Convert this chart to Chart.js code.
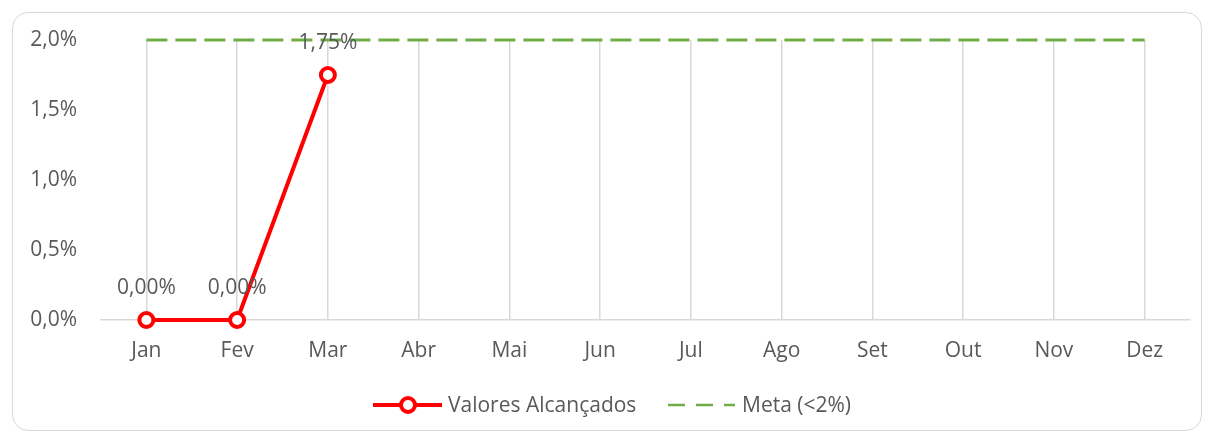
<!DOCTYPE html>
<html>
<head>
<meta charset="utf-8">
<script src="https://cdn.jsdelivr.net/npm/chart.js@4/dist/chart.umd.min.js"></script>
<style>
  html, body { margin: 0; padding: 0; background: #fff; }
  #wrap { position: relative; width: 1205px; height: 432px; overflow: hidden; }
  #frame {
    position: absolute; left: 12px; top: 12px; width: 1190px; height: 419px;
    box-sizing: border-box; border: 1.5px solid #d9d9d9; border-radius: 16px;
  }
  #chart { position: absolute; left: 0; top: 0; }
</style>
</head>
<body>
<div id="wrap">
  <div id="frame"></div>
  <canvas id="chart" width="1205" height="432"></canvas>
</div>
<script>
const months = ['Jan', 'Fev', 'Mar', 'Abr', 'Mai', 'Jun', 'Jul', 'Ago', 'Set', 'Out', 'Nov', 'Dez'];
const achieved = [0, 0, 0.0175, null, null, null, null, null, null, null, null, null];
const target = [0.02, 0.02, 0.02, 0.02, 0.02, 0.02, 0.02, 0.02, 0.02, 0.02, 0.02, 0.02];
const seriesNames = ['Valores Alcançados', 'Meta (<2%)'];

const FONT = '"Open Sans", sans-serif';
const TEXT = '#595959';
const GRID = '#d9d9d9';
const RED = '#ff0000';
const GREEN = '#70ad47';

const fmtAxis = v => (v * 100).toFixed(1).replace('.', ',') + '%';
const fmtLabel = v => (v * 100).toFixed(2).replace('.', ',') + '%';

// labels above the red points
const valueLabels = {
  id: 'valueLabels',
  afterDatasetsDraw(chart) {
    const ctx = chart.ctx;
    const meta = chart.getDatasetMeta(0);
    ctx.save();
    ctx.font = '21px ' + FONT;
    ctx.fillStyle = TEXT;
    ctx.textAlign = 'center';
    ctx.textBaseline = 'middle';
    meta.data.forEach((pt, i) => {
      const v = achieved[i];
      if (v === null) return;
      ctx.fillText(fmtLabel(v), pt.x, pt.y - 32);
    });
    ctx.restore();
  }
};

// legend at the bottom, excel style
const bottomLegend = {
  id: 'bottomLegend',
  afterDraw(chart) {
    const ctx = chart.ctx;
    const y = 405;
    ctx.save();
    ctx.font = '21px ' + FONT;
    ctx.fillStyle = TEXT;
    ctx.textBaseline = 'middle';

    // red line + marker
    ctx.strokeStyle = RED;
    ctx.lineWidth = 4;
    ctx.beginPath();
    ctx.moveTo(373, y);
    ctx.lineTo(442, y);
    ctx.stroke();
    ctx.beginPath();
    ctx.arc(408, y, 7, 0, Math.PI * 2);
    ctx.fillStyle = '#fff';
    ctx.fill();
    ctx.lineWidth = 4;
    ctx.stroke();
    ctx.fillStyle = TEXT;
    ctx.fillText(seriesNames[0], 448, y + 1);

    // green dashes
    ctx.strokeStyle = GREEN;
    ctx.lineWidth = 2.7;
    ctx.setLineDash([17, 11]);
    ctx.beginPath();
    ctx.moveTo(668, y);
    ctx.lineTo(735, y);
    ctx.stroke();
    ctx.setLineDash([]);
    ctx.fillText(seriesNames[1], 742, y + 1);
    ctx.restore();
  }
};

new Chart(document.getElementById('chart'), {
  type: 'line',
  data: {
    labels: months,
    datasets: [
      {
        label: seriesNames[0],
        data: achieved,
        borderColor: RED,
        borderWidth: 4,
        pointRadius: 7,
        pointBorderWidth: 4,
        pointBackgroundColor: '#fff',
        pointBorderColor: RED,
        spanGaps: false,
        tension: 0,
        clip: false,
        order: 0
      },
      {
        label: seriesNames[1],
        data: target,
        borderColor: GREEN,
        borderWidth: 2.8,
        borderDash: [21, 8],
        pointRadius: 0,
        tension: 0,
        clip: false,
        order: 1
      }
    ]
  },
  options: {
    responsive: false,
    animation: false,
    layout: { padding: { top: 40, right: 15, bottom: 0, left: 0 } },
    plugins: {
      legend: { display: false },
      tooltip: { enabled: false }
    },
    scales: {
      x: {
        offset: true,
        grid: { color: GRID, lineWidth: 1.5, drawTicks: false, offset: false },
        border: { color: GRID, width: 1.5 },
        ticks: { color: TEXT, font: { family: FONT, size: 21 }, padding: 18 },
        afterFit: s => { s.height = 112; }
      },
      y: {
        min: 0,
        max: 0.02,
        grid: { display: false, drawTicks: false },
        border: { display: false },
        ticks: {
          stepSize: 0.005,
          color: TEXT,
          font: { family: FONT, size: 21 },
          padding: 24,
          callback: v => fmtAxis(v)
        },
        afterFit: s => { s.width = 101; }
      }
    }
  },
  plugins: [valueLabels, bottomLegend]
});
</script>
</body>
</html>
